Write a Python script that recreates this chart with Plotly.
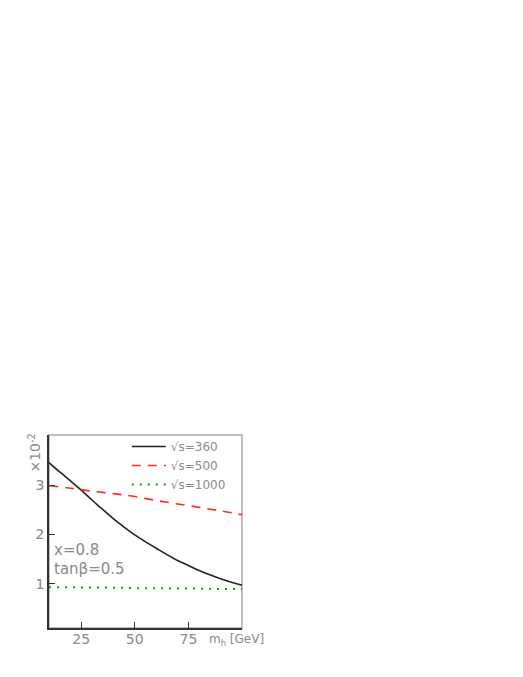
import plotly.graph_objects as go

# data
mh = [10, 15, 20, 25, 30, 35, 40, 45, 50, 55, 60, 65, 70, 75, 80, 85, 90, 95, 100]
s360 = [3.46, 3.27, 3.09, 2.90, 2.70, 2.51, 2.32, 2.15, 1.99, 1.85, 1.72, 1.59, 1.47,
        1.37, 1.27, 1.18, 1.10, 1.03, 0.97]
mh_r = [10, 20, 30, 40, 50, 60, 70, 80, 90, 100]
s500 = [2.99, 2.94, 2.88, 2.83, 2.77, 2.69, 2.62, 2.55, 2.48, 2.40]
s1000 = [0.93, 0.93, 0.92, 0.92, 0.91, 0.91, 0.90, 0.90, 0.89, 0.89]
names = ["√s=360", "√s=500", "√s=1000"]
xticks = [25, 50, 75]
yticks = [1, 2, 3]

GREY = "#8a8a8a"
DARK = "#333333"
FONT = "DejaVu Sans"

fig = go.Figure()
fig.add_trace(go.Scatter(x=mh, y=s360, mode="lines", name=names[0],
                         line=dict(color="#222222", width=1.6, shape="spline")))
fig.add_trace(go.Scatter(x=mh_r, y=s500, mode="lines", name=names[1],
                         line=dict(color="#ff2a2a", width=1.6, dash="9px,7px",
                                   shape="spline")))
fig.add_trace(go.Scatter(x=mh_r, y=s1000, mode="lines", name=names[2],
                         line=dict(color="#1f9a1f", width=2, dash="2px,6px")))

# the page body adds an 8px offset, so the figure is drawn 8px smaller
OFF = 8
W, H = 523 - OFF, 677 - OFF
L, R, T, B = 48.5 - OFF, 242 - OFF, 435 - OFF, 628 - OFF


def px(xp):
    return (xp - OFF - L) / (R - L)


def py(yp):
    return (B - (yp - OFF)) / (B - T)


fig.update_layout(
    width=W, height=H,
    margin=dict(l=L, r=W - R, t=T, b=H - B),
    paper_bgcolor="white", plot_bgcolor="white",
    font=dict(family=FONT, color=GREY, size=14),
    showlegend=True,
    legend=dict(x=px(126.5), y=py(432), xanchor="left", yanchor="top",
                bgcolor="rgba(0,0,0,0)", font=dict(family=FONT, size=12, color=GREY),
                tracegroupgap=0, itemwidth=34),
    xaxis=dict(range=[10, 100], tickvals=xticks, ticks="inside", ticklen=6,
               tickwidth=1.3, tickcolor=DARK, showline=True, linecolor=DARK,
               linewidth=1.5, showgrid=False, zeroline=False, ticklabelstandoff=-3,
               tickfont=dict(family=FONT, size=14, color=GREY)),
    yaxis=dict(range=[0.1, 4.02], tickvals=yticks, ticks="inside", ticklen=6,
               tickwidth=1.3, tickcolor=DARK, showline=True, linecolor=DARK,
               linewidth=1.5, showgrid=False, zeroline=False,
               tickfont=dict(family=FONT, size=14, color=GREY)),
    shapes=[dict(type="rect", xref="paper", yref="paper", x0=0, x1=1, y0=0, y1=1,
                 line=dict(color="#aaaaaa", width=1.5), layer="below")],
    annotations=[
        dict(text="x=0.8", xref="paper", yref="paper", x=px(52), y=py(549.5),
             xanchor="left", yanchor="middle", showarrow=False,
             font=dict(family=FONT, size=15, color=GREY)),
        dict(text="tanβ=0.5", xref="paper", yref="paper", x=px(52), y=py(569),
             xanchor="left", yanchor="middle", showarrow=False,
             font=dict(family=FONT, size=15, color=GREY)),
        dict(text="m<sub>h</sub> [GeV]", xref="paper", yref="paper", x=px(207),
             y=py(640), xanchor="left", yanchor="middle", showarrow=False,
             font=dict(family=FONT, size=12, color=GREY)),
        dict(text="×10<sup>-2</sup>", xref="paper", yref="paper", x=px(34),
             y=py(453), xanchor="center", yanchor="middle", showarrow=False,
             textangle=-90, font=dict(family=FONT, size=14, color=GREY)),
    ],
)

fig.write_html("out.html")
